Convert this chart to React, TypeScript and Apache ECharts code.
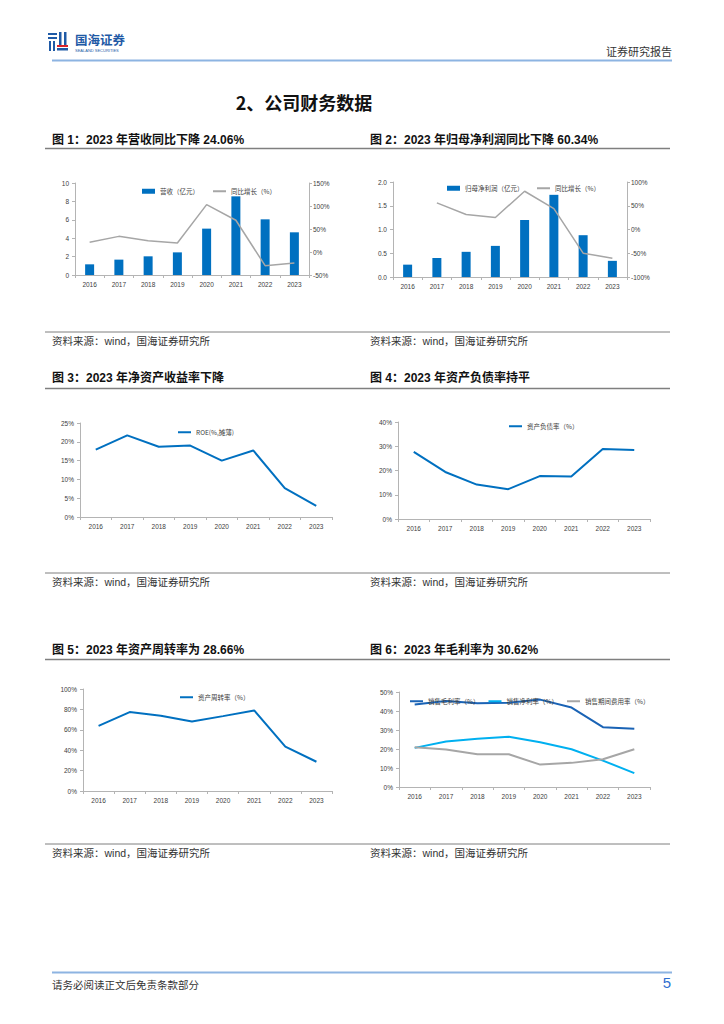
import React, { useEffect, useRef } from "react";
import * as echarts from "echarts";

const years = ["2016", "2017", "2018", "2019", "2020", "2021", "2022", "2023"];
const revenue = [1.16, 1.67, 2.03, 2.46, 5.04, 8.55, 6.05, 4.64];
const revenueYoY = [21, 34, 24.6, 19.6, 103, 69, -29.7, -24.06];
const netProfit = [0.26, 0.4, 0.53, 0.655, 1.2, 1.73, 0.88, 0.34];
const netProfitYoY = [null, 56, 31.7, 25.4, 80.5, 44, -49.8, -60.34];
const roe = [17.9, 21.7, 18.7, 19.0, 15.0, 17.7, 7.7, 2.95];
const debtRatio = [27.7, 19.4, 14.2, 12.3, 17.7, 17.5, 28.9, 28.5];
const turnover = [63.9, 77.4, 73.8, 68.2, 73.4, 79.0, 43.6, 28.66];
const grossMargin = [43.4, 45.3, 44.1, 44.4, 46.0, 41.8, 31.5, 30.62];
const netMargin = [20.6, 24.0, 25.4, 26.5, 23.5, 19.9, 13.9, 7.3];
const expenseRatio = [20.9, 19.7, 17.2, 17.2, 11.8, 12.7, 14.6, 19.9];

const figTitles = [
  "图 1：2023 年营收同比下降 24.06%",
  "图 2：2023 年归母净利润同比下降 60.34%",
  "图 3：2023 年净资产收益率下降",
  "图 4：2023 年资产负债率持平",
  "图 5：2023 年资产周转率为 28.66%",
  "图 6：2023 年毛利率为 30.62%",
];
const sourceText = "资料来源：wind，国海证券研究所";

const FONT = "'Liberation Sans', 'Noto Sans CJK SC', sans-serif";
const CJK = "'Noto Sans CJK SC', 'Liberation Sans', sans-serif";
const AXIS_COLOR = "#B4B4B4";
const LABEL_COLOR = "#404040";
const BLUE = "#0070C0";
const GRAY = "#A6A6A6";

function xAxisCfg(gridIndex: number) {
  return {
    type: "category",
    gridIndex,
    data: years,
    boundaryGap: true,
    axisLine: { show: true, lineStyle: { color: AXIS_COLOR, width: 1 } },
    axisTick: { show: true, length: 3, lineStyle: { color: AXIS_COLOR } },
    axisLabel: { fontSize: 6.5, color: LABEL_COLOR, fontFamily: FONT, margin: 6 },
    splitLine: { show: false },
  };
}

function yAxisCfg(gridIndex: number, min: number, max: number, interval: number, fmt: (v: number) => string, position = "left") {
  return {
    type: "value",
    gridIndex,
    position,
    min,
    max,
    interval,
    axisLine: { show: true, lineStyle: { color: AXIS_COLOR, width: 1 } },
    axisTick: { show: true, length: 3, lineStyle: { color: AXIS_COLOR } },
    axisLabel: { fontSize: 6.5, color: LABEL_COLOR, fontFamily: FONT, margin: position === "left" ? 6 : 4, formatter: fmt },
    splitLine: { show: false },
  };
}

const pct = (v: number) => `${v}%`;

function legendCfg(left: number, top: number, data: string[], itemGap: number, isLine: boolean) {
  return {
    left,
    top,
    data,
    icon: "rect",
    itemWidth: 13,
    itemHeight: isLine ? 2 : 5,
    itemGap,
    textStyle: { fontSize: 6.5, color: LABEL_COLOR, fontFamily: CJK },
    selectedMode: false,
  };
}

function lineSeries(name: string, data: (number | null)[], xi: number, yi: number, color: string, width = 2) {
  return {
    name,
    type: "line",
    xAxisIndex: xi,
    yAxisIndex: yi,
    data,
    symbol: "none",
    showSymbol: false,
    connectNulls: false,
    lineStyle: { color, width },
    itemStyle: { color },
  };
}

function text(t: string, x: number, y: number, size: number, opts: any = {}) {
  return {
    type: "text",
    x,
    y,
    silent: true,
    style: {
      text: t,
      fontSize: size,
      fontFamily: opts.family || CJK,
      fontWeight: opts.weight || "normal",
      fill: opts.color || "#222",
      textAlign: opts.align || "left",
      align: opts.align || "left",
      textVerticalAlign: "middle",
      verticalAlign: "middle",
    },
  };
}

function hline(x1: number, x2: number, y: number, color: string, w: number) {
  return { type: "line", silent: true, shape: { x1, y1: y, x2, y2: y }, style: { stroke: color, lineWidth: w } };
}

function rect(x: number, y: number, w: number, h: number, fill: string) {
  return { type: "rect", silent: true, shape: { x, y, width: w, height: h }, style: { fill } };
}

export default function App() {
  const ref = useRef<HTMLDivElement>(null);
  useEffect(() => {
    if (!ref.current) return;
    const chart = echarts.init(ref.current, undefined, { renderer: "svg" });
    const logoBlue = "#1F5AA6";
    const graphics: any[] = [
      // logo icon
      rect(48, 33, 9, 2, logoBlue),
      rect(48, 37, 9, 2, logoBlue),
      rect(49, 41, 2, 10, logoBlue),
      rect(53, 41, 2, 10, logoBlue),
      rect(59, 32, 2.5, 13, logoBlue),
      rect(64, 32, 2.5, 13, logoBlue),
      rect(57, 45, 11, 2, "#D9232A"),
      rect(57, 48, 11, 2.5, logoBlue),
      text("国海证券", 75, 39.5, 12.5, { weight: "bold", color: logoBlue }),
      text("SEALAND SECURITIES", 75, 50.5, 4, { color: logoBlue, family: FONT }),
      text("证券研究报告", 672, 51, 11, { align: "right", color: "#333" }),
      hline(52, 672, 60.5, "#8DB4E2", 2),
      text("2、公司财务数据", 304, 102, 18, { align: "center", weight: "bold", color: "#111" }),
      // figure titles
      text(figTitles[0], 52, 140, 12, { weight: "bold", family: FONT, color: "#111" }),
      text(figTitles[1], 370, 140, 12, { weight: "bold", family: FONT, color: "#111" }),
      hline(45, 670, 148.5, "#7F7F7F", 1.5),
      hline(45, 670, 332, "#7F7F7F", 1),
      text(sourceText, 52, 341, 10.5, { family: FONT, color: "#333" }),
      text(sourceText, 370, 341, 10.5, { family: FONT, color: "#333" }),
      text(figTitles[2], 52, 378, 12, { weight: "bold", family: FONT, color: "#111" }),
      text(figTitles[3], 370, 378, 12, { weight: "bold", family: FONT, color: "#111" }),
      hline(45, 670, 388.5, "#7F7F7F", 1.5),
      hline(45, 670, 573, "#7F7F7F", 1),
      text(sourceText, 52, 582, 10.5, { family: FONT, color: "#333" }),
      text(sourceText, 370, 582, 10.5, { family: FONT, color: "#333" }),
      text(figTitles[4], 52, 650, 12, { weight: "bold", family: FONT, color: "#111" }),
      text(figTitles[5], 370, 650, 12, { weight: "bold", family: FONT, color: "#111" }),
      hline(45, 670, 659.5, "#7F7F7F", 1.5),
      hline(45, 670, 844, "#7F7F7F", 1),
      text(sourceText, 52, 853, 10.5, { family: FONT, color: "#333" }),
      text(sourceText, 370, 853, 10.5, { family: FONT, color: "#333" }),
      hline(52, 672, 972.5, "#8DB4E2", 2),
      text("请务必阅读正文后免责条款部分", 52, 984, 10.5, { color: "#333" }),
      text("5", 671, 982, 15, { align: "right", family: FONT, color: "#2F6FD0" }),
    ];

    const option: any = {
      animation: false,
      backgroundColor: "#fff",
      textStyle: { fontFamily: FONT },
      grid: [
        { left: 75, top: 183, width: 234, height: 92 },
        { left: 393, top: 182, width: 234, height: 95 },
        { left: 80, top: 423, width: 252, height: 94 },
        { left: 398, top: 422, width: 252, height: 97 },
        { left: 83, top: 689, width: 249, height: 102 },
        { left: 399, top: 692, width: 251, height: 95 },
      ],
      xAxis: [0, 1, 2, 3, 4, 5].map((i) => xAxisCfg(i)),
      yAxis: [
        yAxisCfg(0, 0, 10, 2, (v) => `${v}`),
        yAxisCfg(0, -50, 150, 50, pct, "right"),
        yAxisCfg(1, 0, 2, 0.5, (v) => v.toFixed(1)),
        yAxisCfg(1, -100, 100, 50, pct, "right"),
        yAxisCfg(2, 0, 25, 5, pct),
        yAxisCfg(3, 0, 40, 10, pct),
        yAxisCfg(4, 0, 100, 20, pct),
        yAxisCfg(5, 0, 50, 10, pct),
      ],
      legend: [
        legendCfg(137, 183, ["营收（亿元）"], 10, false),
        legendCfg(208, 183, ["同比增长（%）"], 10, true),
        legendCfg(442, 180, ["归母净利润（亿元）"], 10, false),
        legendCfg(532, 180, ["同比增长（%） "], 10, true),
        legendCfg(173, 424, ["ROE(%,摊薄)"], 10, true),
        legendCfg(504, 418, ["资产负债率（%）"], 10, true),
        legendCfg(175, 689, ["资产周转率（%）"], 10, true),
        legendCfg(405, 693, ["销售毛利率（%）", "销售净利率（%）", "销售期间费用率（%）"], 9, true),
      ],
      series: [
        {
          name: "营收（亿元）",
          type: "bar",
          xAxisIndex: 0,
          yAxisIndex: 0,
          data: revenue,
          barWidth: 9,
          itemStyle: { color: BLUE },
        },
        lineSeries("同比增长（%）", revenueYoY, 0, 1, GRAY, 1.5),
        {
          name: "归母净利润（亿元）",
          type: "bar",
          xAxisIndex: 1,
          yAxisIndex: 2,
          data: netProfit,
          barWidth: 9,
          itemStyle: { color: BLUE },
        },
        lineSeries("同比增长（%） ", netProfitYoY, 1, 3, GRAY, 1.5),
        lineSeries("ROE(%,摊薄)", roe, 2, 4, BLUE, 2),
        lineSeries("资产负债率（%）", debtRatio, 3, 5, BLUE, 2),
        lineSeries("资产周转率（%）", turnover, 4, 6, BLUE, 2),
        lineSeries("销售毛利率（%）", grossMargin, 5, 7, "#1A63B5", 2),
        lineSeries("销售净利率（%）", netMargin, 5, 7, "#00B0F0", 2),
        lineSeries("销售期间费用率（%）", expenseRatio, 5, 7, GRAY, 2),
      ],
      graphic: graphics,
    };
    chart.setOption(option);
    return () => chart.dispose();
  }, []);
  return (
    <div
      ref={ref}
      style={{ position: "absolute", left: 0, top: 0, width: 724, height: 1024, background: "#fff" }}
    />
  );
}
